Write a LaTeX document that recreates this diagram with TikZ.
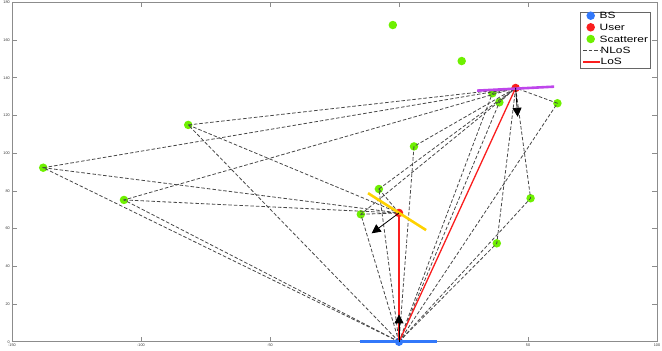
\documentclass[tikz,border=0pt]{standalone}
\usepackage{fontspec}
\setmainfont{Liberation Sans}
\newfontfamily\legfont[FakeStretch=1.3]{Liberation Sans}
\usetikzlibrary{arrows.meta}
\definecolor{scatgreen}{RGB}{110,240,0}
\definecolor{bsblue}{RGB}{50,120,250}
\definecolor{userred}{RGB}{250,30,30}
\definecolor{arryellow}{RGB}{255,210,0}
\definecolor{arrpurple}{RGB}{190,70,235}
\definecolor{axgray}{RGB}{140,140,140}
\tikzset{
  dot/.style={circle, inner sep=0pt, minimum size=8.5bp, draw=none},
  scat/.style={dot, fill=scatgreen},
  user/.style={dot, fill=userred},
  bsdot/.style={dot, fill=bsblue},
  nlos/.style={draw=black!72, line width=0.8bp, dash pattern=on 3.5bp off 2bp},
  los/.style={draw=userred, line width=1.3bp},
  loslegend/.style={draw=userred, line width=2bp},
  arr/.style={line width=2.6bp},
  quiv/.style={draw=black, line width=0.8bp, -{Triangle[length=9bp,width=9bp]}},
  axis/.style={draw=axgray, line width=0.8bp},
  ticklab/.style={font=\fontsize{3.8}{4}\selectfont, inner sep=0.5bp, text=black!80},
  legtxt/.style={font=\legfont\fontsize{9.2}{10}\selectfont, inner sep=0pt, anchor=west}
}
\begin{document}
\begin{tikzpicture}[x=1bp,y=1bp]
\useasboundingbox (0,0) rectangle (662,350);
\begin{scope}[shift={(399bp,8.3bp)}, x=2.58bp, y=1.885bp]
  % axes box and ticks
  \draw[axis] (-150,0) rectangle (100,180);
  \foreach \yv in {0,20,...,180} {
    \draw[axis] (-150,\yv) -- ++(5bp,0);
    \draw[axis] (100,\yv) -- ++(-5bp,0);
    \node[ticklab, anchor=east] at ([xshift=-1.5bp]-150,\yv) {\yv};
  }
  \foreach \xv in {-150,-100,...,100} {
    \draw[axis] (\xv,0) -- ++(0,5bp);
    \draw[axis] (\xv,180) -- ++(0,-5bp);
    \node[ticklab, anchor=north] at ([yshift=-1bp]\xv,0) {\xv};
  }
  % nodes
  \node[bsdot] (bs) at (0,0) {};
  \node[user] (u1) at (0,68.3) {};
  \node[user] (u2) at (45.2,134.6) {};
  \node[scat] (s1) at (-2.4,168.0) {};
  \node[scat] (s2) at (24.3,148.9) {};
  \node[scat] (s3) at (36.2,131.8) {};
  \node[scat] (s4) at (38.9,127.0) {};
  \node[scat] (s5) at (61.4,126.5) {};
  \node[scat] (s6) at (-81.7,115.0) {};
  \node[scat] (s7) at (-137.9,92.3) {};
  \node[scat] (s8) at (-106.6,75.2) {};
  \node[scat] (s9) at (5.8,103.6) {};
  \node[scat] (s10) at (-7.8,81.0) {};
  \node[scat] (s11) at (-14.8,67.6) {};
  \node[scat] (s12) at (51.0,76.1) {};
  \node[scat] (s13) at (37.9,52.2) {};
  % NLoS paths
  \foreach \s in {s3,s4,s5,s9,s12,s13} {
    \draw[nlos] (bs.center) -- (\s.center) -- (u2.center);
  }
  \foreach \s in {s6,s7,s8,s10,s11} {
    \draw[nlos] (bs.center) -- (\s.center) -- (u2.center);
    \draw[nlos] (\s.center) -- (u1.center);
  }
  % LoS
  \draw[los] (bs.center) -- (u1.center);
  \draw[los] (bs.center) -- (u2.center);
  % arrays
  \coordinate (bsa) at (-15.3,0);
  \coordinate (bsb) at (14.7,0);
  \draw[arr, draw=bsblue] (bsa) -- (bsb);
  \coordinate (u1a) at (-12.0,78.8);
  \coordinate (u1b) at (10.5,59.2);
  \draw[arr, draw=arryellow] (u1a) -- (u1b);
  \coordinate (u2a) at (30.3,133.2);
  \coordinate (u2b) at (60.1,135.3);
  \draw[arr, draw=arrpurple] (u2a) -- (u2b);
  % orientation arrows
  \coordinate (bstip) at (0,14.5);
  \coordinate (u1tip) at (-10.6,57.5);
  \coordinate (u2tip) at (46.0,119.3);
  \draw[quiv] (bs.center) -- (bstip);
  \draw[quiv] (u1.center) -- (u1tip);
  \draw[quiv] (u2.center) -- (u2tip);
\end{scope}
% legend
\draw[fill=white, draw=black!60, line width=0.5bp] (580.7,281.7) rectangle (650.7,338);
\coordinate (ln1) at (583,299.7);
\coordinate (ln2) at (600,299.7);
\draw[nlos] (ln1) -- (ln2);
\coordinate (ll1) at (583,288.5);
\coordinate (ll2) at (600,288.5);
\draw[loslegend] (ll1) -- (ll2);
\node[bsdot] (lbs) at (590.7,334.3) {};
\node[user] (lu) at (590.7,322.7) {};
\node[scat] (ls) at (590.7,311.0) {};
\node[legtxt] (tbs) at (599.5,334.3) {BS};
\node[legtxt] (tu) at (599.5,322.7) {User};
\node[legtxt] (ts) at (599.5,311.0) {Scatterer};
\node[legtxt] (tn) at (600.5,299.7) {NLoS};
\node[legtxt] (tl) at (600.5,288.7) {LoS};
\end{tikzpicture}
\end{document}
